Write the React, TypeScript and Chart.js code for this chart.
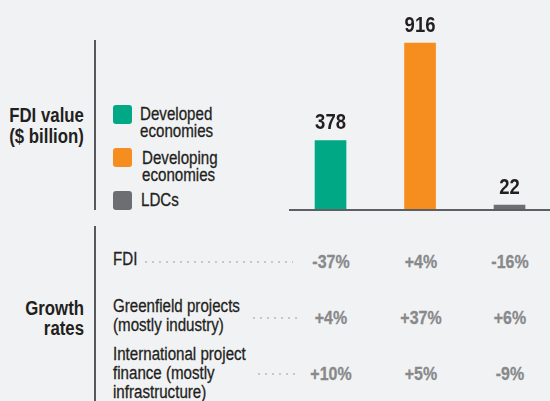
import React, { useEffect, useRef } from "react";
import { Chart, registerables } from "chart.js";

Chart.register(...registerables);

const categories = ["Developed economies", "Developing economies", "LDCs"];
const legendLines = [["Developed", "economies"], ["Developing", "economies"], ["LDCs"]];
const fdiValues = [378, 916, 22];
const barColors = ["#00a886", "#f68d1f", "#6d6e71"];

const growthRows = [
  ["FDI"],
  ["Greenfield projects", "(mostly industry)"],
  ["International project", "finance (mostly", "infrastructure)"],
];
const growthValues = [
  ["-37%", "+4%", "-16%"],
  ["+4%", "+37%", "+6%"],
  ["+10%", "+5%", "-9%"],
];

const FONT = "'Liberation Sans', Arial, sans-serif";
const SQUEEZE = 0.84;
const BG = "#f1f2f4";

const valueLabelPlugin = {
  id: "valueLabels",
  beforeDatasetsDraw(chart: any) {
    const { ctx, chartArea } = chart;
    ctx.save();
    ctx.strokeStyle = "#5e5f62";
    ctx.lineWidth = 2;
    ctx.beginPath();
    ctx.moveTo(chartArea.left, chartArea.bottom + 1);
    ctx.lineTo(chartArea.right, chartArea.bottom + 1);
    ctx.stroke();
    ctx.restore();
  },
  afterDatasetsDraw(chart: any) {
    const { ctx } = chart;
    const meta = chart.getDatasetMeta(0);
    meta.data.forEach((bar: any, i: number) => {
      ctx.save();
      ctx.font = `bold 22px ${FONT}`;
      ctx.fillStyle = "#231f20";
      ctx.textAlign = "center";
      ctx.textBaseline = "alphabetic";
      ctx.translate(bar.x, bar.y - 11);
      ctx.scale(SQUEEZE, 1);
      ctx.fillText(String(fdiValues[i]), 0, 0);
      ctx.restore();
    });
  },
};

function BarChart() {
  const ref = useRef<HTMLCanvasElement | null>(null);
  useEffect(() => {
    if (!ref.current) return;
    const chart = new Chart(ref.current, {
      type: "bar",
      data: {
        datasets: [
          {
            label: "FDI value ($ billion)",
            data: fdiValues.map((v, i) => ({ x: i, y: v })),
            backgroundColor: barColors,
            borderWidth: 0,
            barThickness: 31,
          },
        ],
      },
      options: {
        animation: false,
        responsive: false,
        devicePixelRatio: 1,
        layout: { padding: { left: 9, bottom: 3, top: 0, right: 0 } },
        plugins: { legend: { display: false }, tooltip: { enabled: false } },
        scales: {
          x: { type: "linear", display: false, offset: false, min: -0.464, max: 2.452 },
          y: { display: false, min: 0, max: 1153 },
        },
      },
      plugins: [valueLabelPlugin],
    });
    return () => chart.destroy();
  }, []);
  return (
    <canvas
      ref={ref}
      width={270}
      height={212}
      style={{ position: "absolute", left: 280, top: 0, width: 270, height: 212 }}
    />
  );
}

const abs = (o: any) => ({ position: "absolute" as const, ...o });

export default function App() {
  const valueCenters = [330.5, 420.5, 509.5];
  const rowTops = [250.3, 297.2, 345];
  const rowValueTops = [252.2, 308.2, 364.2];
  const leaders = [
    { left: 145, width: 148, top: 261 },
    { left: 253, width: 45, top: 317 },
    { left: 258, width: 38, top: 373 },
  ];
  const legendTops = [106.3, 149.9, 192.3];
  const legendLefts = [140, 142, 141];
  const squareTops = [105, 148, 191];
  const sqL = { transform: `scaleX(${SQUEEZE})`, transformOrigin: "left top" };
  const sqR = { transform: `scaleX(${SQUEEZE})`, transformOrigin: "right top" };
  const sqC = { transform: `scaleX(${SQUEEZE})`, transformOrigin: "center top" };
  return (
    <div
      style={{
        position: "fixed",
        left: 0,
        top: 0,
        width: 550,
        height: 401,
        background: BG,
        overflow: "hidden",
        fontFamily: FONT,
        color: "#231f20",
      }}
    >
      {/* left headings */}
      <div style={abs({ right: 550 - 84, top: 104.6, fontSize: 20, lineHeight: "21px", fontWeight: "bold", textAlign: "right", whiteSpace: "nowrap", ...sqR })}>
        FDI value
        <br />
        ($ billion)
      </div>
      <div style={abs({ right: 550 - 84, top: 298, fontSize: 20, lineHeight: "20px", fontWeight: "bold", textAlign: "right", whiteSpace: "nowrap", ...sqR })}>
        Growth
        <br />
        rates
      </div>
      {/* vertical rules */}
      <div style={abs({ left: 93.5, top: 40, width: 2, height: 170, background: "#58595b" })} />
      <div style={abs({ left: 93.5, top: 226, width: 2, height: 180, background: "#58595b" })} />
      {/* legend */}
      {categories.map((c, i) => (
        <React.Fragment key={c}>
          <div style={abs({ left: 113, top: squareTops[i], width: 19, height: 19, borderRadius: 3, background: barColors[i] })} />
          <div style={abs({ left: legendLefts[i], top: legendTops[i], fontSize: 18, lineHeight: "17px", whiteSpace: "nowrap", WebkitTextStroke: "0.3px #231f20", ...sqL })}>
            {legendLines[i].map((l, j) => (
              <div key={j}>{l}</div>
            ))}
          </div>
        </React.Fragment>
      ))}
      <BarChart />
      {/* growth rows */}
      {growthRows.map((lines, r) => (
        <React.Fragment key={r}>
          <div style={abs({ left: 113, top: rowTops[r], fontSize: 18, lineHeight: "19px", whiteSpace: "nowrap", color: "#231f20", WebkitTextStroke: "0.3px #231f20", ...sqL })}>
            {lines.map((l, j) => (
              <div key={j}>{l}</div>
            ))}
          </div>
          <div
            style={abs({
              left: leaders[r].left,
              top: leaders[r].top,
              width: leaders[r].width,
              height: 2,
              backgroundImage: "repeating-linear-gradient(to right, #c6c7c9 0px, #c6c7c9 2px, transparent 2px, transparent 7px)",
            })}
          />
          {growthValues[r].map((v, k) => (
            <div
              key={k}
              style={abs({
                left: valueCenters[k] - 40,
                width: 80,
                top: rowValueTops[r],
                fontSize: 19,
                lineHeight: "19px",
                fontWeight: "bold",
                textAlign: "center",
                color: "#88898b",
                WebkitTextStroke: "0.3px #88898b",
                ...sqC,
              })}
            >
              {v}
            </div>
          ))}
        </React.Fragment>
      ))}
    </div>
  );
}
